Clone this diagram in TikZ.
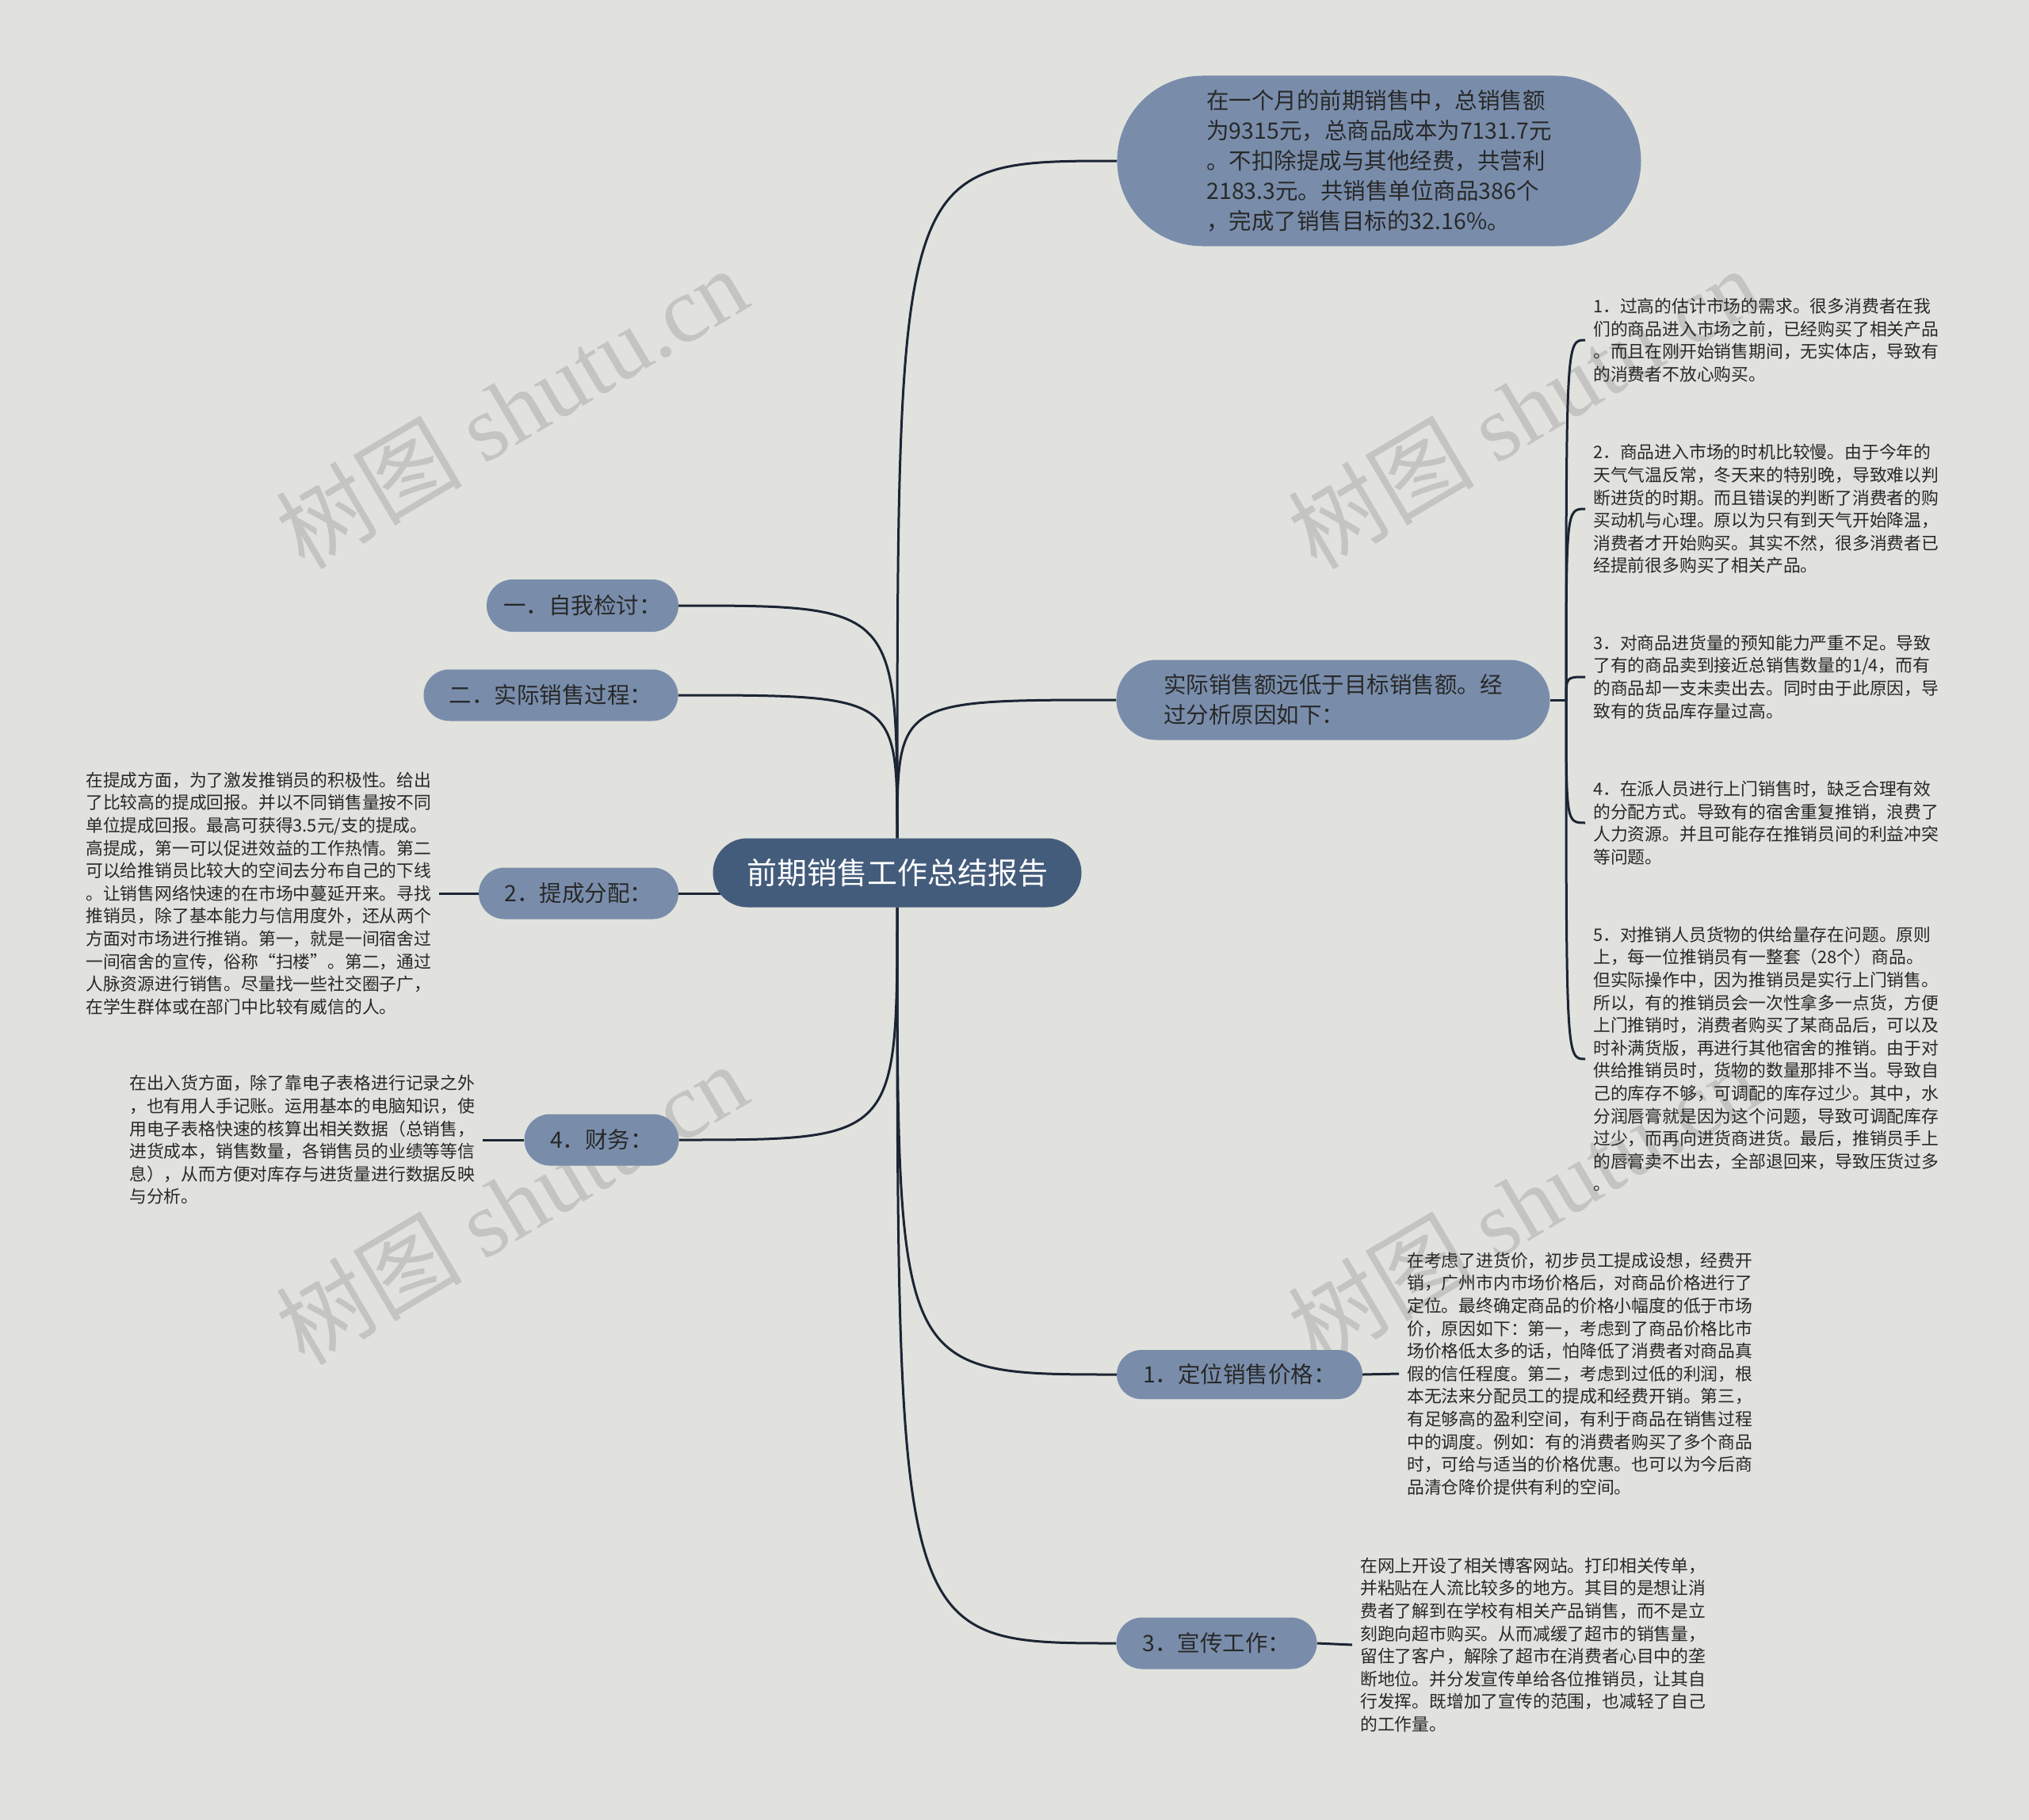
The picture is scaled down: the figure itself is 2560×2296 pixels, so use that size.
\documentclass[tikz,border=0pt]{standalone}
\usepackage{fontspec}
\setmainfont{Noto Sans CJK SC}
\newfontfamily\wmlatin{Liberation Serif}
\usetikzlibrary{shapes.misc}
\definecolor{bgc}{RGB}{225,226,221}
\definecolor{nodec}{RGB}{121,141,171}
\definecolor{rootc}{RGB}{68,92,123}
\definecolor{linec}{RGB}{28,37,52}
\definecolor{txtc}{RGB}{40,40,40}
\definecolor{wmc}{RGB}{196,197,194}
\pgfdeclarelayer{bg}
\pgfsetlayers{bg,main}
\begin{document}
\begin{tikzpicture}[x=1pt,y=-1pt,
  bnode/.style={rounded rectangle, fill=nodec, text=txtc, inner sep=0pt, align=left, font=\fontsize{28.5}{38}\selectfont},
  leaf/.style={inner xsep=10pt, inner ysep=0pt, anchor=west, align=left, text=txtc, font=\fontsize{21.8}{28.6}\selectfont},
  conn/.style={draw=linec, line width=3pt},
  wm/.style={text=wmc, rotate=30.6, inner sep=0pt, font=\fontsize{118}{118}\selectfont}
]
\useasboundingbox (0,0) rectangle (2560,2296);

% nodes
\node[rounded rectangle, fill=rootc, text=white, inner sep=0pt, minimum width=465pt, minimum height=87pt, font=\fontsize{38}{44}\selectfont] (root) at (1132,1101) {前期销售工作总结报告};

\node[bnode, minimum width=661pt, minimum height=215pt] (sum) at (1740,203) {在一个月的前期销售中，总销售额\\为9315元，总商品成本为7131.7元\\。不扣除提成与其他经费，共营利\\2183.3元。共销售单位商品386个\\，完成了销售目标的32.16\%。};

\node[bnode, minimum width=547pt, minimum height=101pt] (act) at (1682,883) {实际销售额远低于目标销售额。经\\过分析原因如下：};

\node[bnode, minimum width=242pt, minimum height=66pt] (n1) at (735,764) {一．自我检讨：};
\node[bnode, minimum width=321pt, minimum height=65pt] (n2) at (695,877) {二．实际销售过程：};
\node[bnode, minimum width=252pt, minimum height=65pt] (tc) at (730,1127) {2．提成分配：};
\node[bnode, minimum width=195pt, minimum height=65pt] (cw) at (759,1438) {4．财务：};
\node[bnode, minimum width=310pt, minimum height=62pt] (dw) at (1564,1734) {1．定位销售价格：};
\node[bnode, minimum width=253pt, minimum height=65pt] (xc) at (1535,2073) {3．宣传工作：};

% leaves right of act
\node[leaf] (r1) at (2000,429) {1．过高的估计市场的需求。很多消费者在我\\们的商品进入市场之前，已经购买了相关产品\\。而且在刚开始销售期间，无实体店，导致有\\的消费者不放心购买。};
\node[leaf] (r2) at (2000,642) {2．商品进入市场的时机比较慢。由于今年的\\天气气温反常，冬天来的特别晚，导致难以判\\断进货的时期。而且错误的判断了消费者的购\\买动机与心理。原以为只有到天气开始降温，\\消费者才开始购买。其实不然，很多消费者已\\经提前很多购买了相关产品。};
\node[leaf] (r3) at (2000,854) {3．对商品进货量的预知能力严重不足。导致\\了有的商品卖到接近总销售数量的1/4，而有\\的商品却一支未卖出去。同时由于此原因，导\\致有的货品库存量过高。};
\node[leaf] (r4) at (2000,1038) {4．在派人员进行上门销售时，缺乏合理有效\\的分配方式。导致有的宿舍重复推销，浪费了\\人力资源。并且可能存在推销员间的利益冲突\\等问题。};
\node[leaf] (r5) at (2000,1336) {5．对推销人员货物的供给量存在问题。原则\\上，每一位推销员有一整套（28个）商品。\\但实际操作中，因为推销员是实行上门销售。\\所以，有的推销员会一次性拿多一点货，方便\\上门推销时，消费者购买了某商品后，可以及\\时补满货版，再进行其他宿舍的推销。由于对\\供给推销员时，货物的数量那排不当。导致自\\己的库存不够，可调配的库存过少。其中，水\\分润唇膏就是因为这个问题，导致可调配库存\\过少，而再向进货商进货。最后，推销员手上\\的唇膏卖不出去，全部退回来，导致压货过多\\。};

% other leaves
\node[leaf] (ltc) at (98,1127) {在提成方面，为了激发推销员的积极性。给出\\了比较高的提成回报。并以不同销售量按不同\\单位提成回报。最高可获得3.5元/支的提成。\\高提成，第一可以促进效益的工作热情。第二\\可以给推销员比较大的空间去分布自己的下线\\。让销售网络快速的在市场中蔓延开来。寻找\\推销员，除了基本能力与信用度外，还从两个\\方面对市场进行推销。第一，就是一间宿舍过\\一间宿舍的宣传，俗称“扫楼”。第二，通过\\人脉资源进行销售。尽量找一些社交圈子广，\\在学生群体或在部门中比较有威信的人。};
\node[leaf] (lcw) at (153,1438) {在出入货方面，除了靠电子表格进行记录之外\\，也有用人手记账。运用基本的电脑知识，使\\用电子表格快速的核算出相关数据（总销售，\\进货成本，销售数量，各销售员的业绩等等信\\息），从而方便对库存与进货量进行数据反映\\与分析。};
\node[leaf] (ldw) at (1765,1733) {在考虑了进货价，初步员工提成设想，经费开\\销，广州市内市场价格后，对商品价格进行了\\定位。最终确定商品的价格小幅度的低于市场\\价，原因如下：第一，考虑到了商品价格比市\\场价格低太多的话，怕降低了消费者对商品真\\假的信任程度。第二，考虑到过低的利润，根\\本无法来分配员工的提成和经费开销。第三，\\有足够高的盈利空间，有利于商品在销售过程\\中的调度。例如：有的消费者购买了多个商品\\时，可给与适当的价格优惠。也可以为今后商\\品清仓降价提供有利的空间。};
\node[leaf] (lxc) at (1706,2075) {在网上开设了相关博客网站。打印相关传单，\\并粘贴在人流比较多的地方。其目的是想让消\\费者了解到在学校有相关产品销售，而不是立\\刻跑向超市购买。从而减缓了超市的销售量，\\留住了客户，解除了超市在消费者心目中的垄\\断地位。并分发宣传单给各位推销员，让其自\\行发挥。既增加了宣传的范围，也减轻了自己\\的工作量。};

\coordinate (J) at (1976,883);

\begin{pgfonlayer}{bg}
\fill[bgc] (0,0) rectangle (2560,2296);
\node[wm] (w1) at (645,514) {树图 {\wmlatin shutu.cn}};
\node[wm] (w2) at (1922,514) {树图 {\wmlatin shutu.cn}};
\node[wm] (w3) at (645,1518) {树图 {\wmlatin shutu.cn}};
\node[wm] (w4) at (1922,1518) {树图 {\wmlatin shutu.cn}};

\draw[conn] (root.north) .. controls (root.north |- sum.west) .. (sum.west);
\draw[conn] (root.north) .. controls (root.north |- act.west) .. (act.west);
\draw[conn] (root.north) .. controls (root.north |- n1.east) .. (n1.east);
\draw[conn] (root.north) .. controls (root.north |- n2.east) .. (n2.east);
\draw[conn] (tc.east) -- (tc.east -| root.center);
\draw[conn] (root.south) .. controls (root.south |- cw.east) .. (cw.east);
\draw[conn] (root.south) .. controls (root.south |- dw.west) .. (dw.west);
\draw[conn] (root.south) .. controls (root.south |- xc.west) .. (xc.west);

\draw[conn] (act.east) -- (J);
\foreach \t in {r1,r2,r3,r4,r5}
  \draw[conn] (J) .. controls (J |- \t.west) .. (\t.west);

\draw[conn] (tc.west) -- (ltc.east);
\draw[conn] (cw.west) -- (lcw.east);
\draw[conn] (dw.east) -- (ldw.west);
\draw[conn] (xc.east) -- (lxc.west);
\end{pgfonlayer}
\end{tikzpicture}
\end{document}
